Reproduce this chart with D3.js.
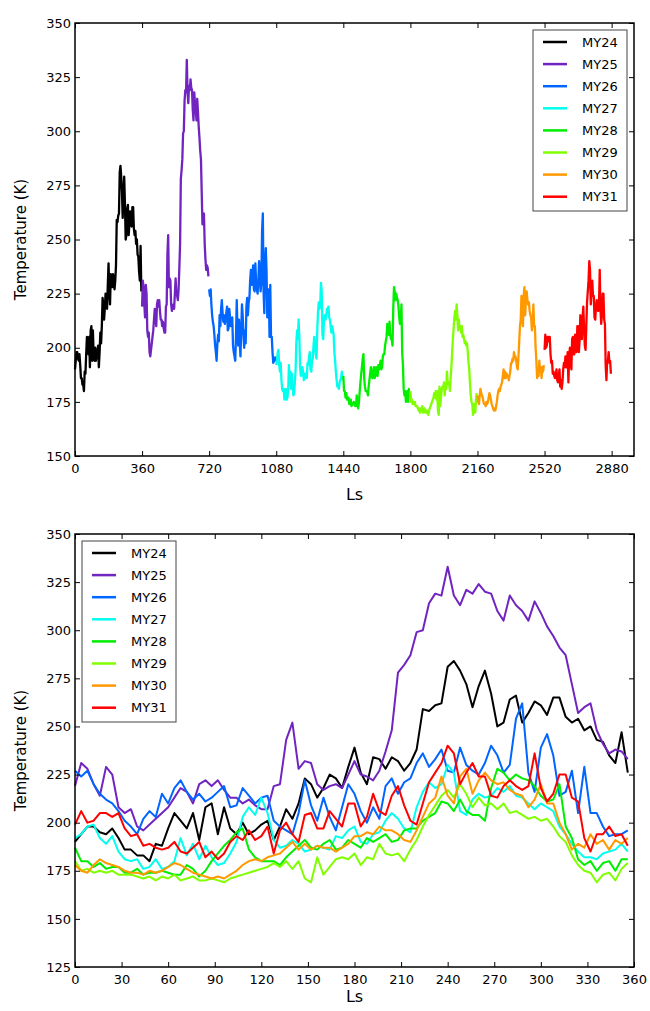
<!DOCTYPE html>
<html>

<head>
  <title>Mars temperature by year</title>
</head>

<body>

  <svg id="svg" width="650" height="1011"></svg>

  <script src="https://d3js.org/d3.v7.min.js"></script>
  <script>
    // solar longitude grid shared by every Mars year
    const ls = d3.range(0, 360, 4)

    const years = ['MY24', 'MY25', 'MY26', 'MY27', 'MY28', 'MY29', 'MY30', 'MY31']
    const colors = ['#000000', '#7125c0', '#0066ff', '#00ffee', '#00ee00', '#7fff00', '#ff9900', '#ff0000']

    const my24 = [190, 194, 198, 198, 195, 194, 197, 192, 186, 186, 183, 183, 180, 189, 188, 197, 205, 201, 197, 205,
      191, 208, 210, 194, 208, 197, 194, 200, 194, 196, 199, 201, 191, 198, 207, 202, 210, 223, 220, 213,
      218, 225, 223, 218, 229, 239, 226, 220, 234, 233, 228, 234, 232, 227, 231, 238, 259, 258, 261, 262,
      281, 284, 279, 272, 260, 271, 279, 267, 250, 252, 264, 266, 252, 257, 263, 261, 256, 265, 265, 255,
      252, 254, 248, 250, 243, 242, 235, 231, 247, 226]
    const my25 = [219, 231, 228, 220, 214, 229, 225, 208, 205, 207, 198, 196, 199, 202, 205, 208, 213, 218, 216, 210,
      220, 222, 219, 222, 217, 213, 213, 210, 212, 209, 207, 207, 219, 220, 243, 252, 228, 232, 231, 220,
      217, 219, 220, 218, 225, 232, 225, 224, 222, 227, 237, 248, 278, 282, 287, 299, 300, 314, 319, 318,
      333, 318, 313, 321, 319, 324, 320, 319, 310, 305, 318, 313, 310, 305, 315, 309, 302, 297, 291, 287,
      272, 257, 260, 262, 248, 241, 236, 238, 237, 233]
    const my26 = [227, 224, 227, 220, 215, 212, 210, 206, 201, 198, 194, 202, 206, 203, 215, 210, 218, 222, 216, 212,
      215, 211, 213, 216, 219, 208, 209, 218, 214, 210, 213, 214, 201, 198, 196, 194, 205, 222, 209, 201,
      213, 203, 196, 208, 220, 215, 206, 200, 208, 202, 219, 223, 215, 221, 223, 231, 236, 229, 233, 238,
      227, 226, 239, 230, 227, 225, 231, 240, 235, 226, 230, 254, 262, 226, 216, 239, 246, 235, 214, 216,
      227, 205, 229, 205, 205, 198, 193, 194, 194, 196]
    const my27 = [192, 194, 198, 199, 192, 189, 193, 185, 181, 180, 181, 176, 177, 181, 176, 177, 180, 192, 183, 189,
      181, 188, 182, 178, 179, 184, 190, 203, 208, 204, 213, 205, 191, 187, 188, 191, 189, 185, 186, 188,
      187, 186, 193, 192, 196, 198, 190, 189, 194, 195, 201, 205, 202, 197, 195, 208, 216, 221, 218, 220,
      230, 226, 206, 204, 212, 215, 213, 214, 218, 216, 219, 214, 213, 210, 207, 210, 208, 206, 198, 194,
      189, 185, 182, 182, 181, 184, 185, 186, 189, 185]
    const my28 = [187, 180, 180, 177, 179, 176, 177, 177, 174, 174, 176, 173, 174, 174, 175, 174, 173, 173, 178, 176,
      172, 175, 180, 184, 188, 191, 195, 197, 186, 182, 180, 180, 180, 178, 182, 185, 188, 191, 187, 186,
      189, 191, 186, 187, 191, 189, 187, 192, 190, 192, 194, 190, 191, 196, 197, 197, 201, 203, 205, 211,
      210, 206, 212, 206, 204, 204, 201, 218, 228, 226, 222, 225, 223, 222, 219, 214, 211, 212, 220, 198,
      192, 181, 178, 180, 175, 179, 180, 175, 181, 181]
    const my29 = [180, 175, 176, 174, 175, 174, 175, 173, 173, 173, 172, 171, 172, 170, 172, 171, 173, 170, 171, 172,
      170, 170, 171, 170, 169, 171, 172, 173, 174, 175, 176, 177, 179, 177, 180, 176, 180, 171, 169, 182,
      173, 177, 181, 182, 181, 184, 178, 182, 181, 189, 184, 183, 184, 180, 186, 191, 198, 204, 209, 214,
      217, 213, 220, 215, 208, 213, 209, 210, 207, 210, 205, 206, 204, 202, 203, 201, 202, 198, 193, 190,
      183, 178, 175, 174, 169, 173, 174, 170, 176, 179]
    const my30 = [178, 175, 174, 178, 181, 179, 178, 177, 175, 174, 174, 173, 175, 174, 175, 177, 179, 178, 176, 174,
      173, 172, 171, 172, 171, 173, 175, 178, 180, 181, 180, 182, 183, 184, 187, 190, 186, 189, 186, 188,
      187, 187, 185, 187, 189, 193, 193, 195, 194, 198, 196, 196, 194, 191, 190, 196, 203, 210, 213, 224,
      214, 210, 224, 228, 215, 222, 226, 222, 220, 221, 217, 215, 214, 208, 212, 220, 210, 210, 200, 194,
      186, 189, 187, 194, 189, 191, 186, 191, 189, 192]
    const my31 = [199, 206, 200, 201, 205, 205, 203, 205, 197, 193, 194, 188, 189, 187, 186, 187, 190, 185, 184, 187,
      190, 182, 185, 181, 184, 190, 193, 191, 196, 191, 193, 198, 184, 196, 200, 194, 190, 204, 205, 197,
      197, 206, 202, 198, 210, 210, 198, 203, 215, 206, 204, 214, 219, 209, 201, 199, 210, 221, 226, 231,
      240, 236, 220, 226, 231, 224, 224, 214, 213, 219, 222, 219, 217, 219, 236, 218, 211, 215, 225, 225,
      213, 211, 192, 185, 194, 194, 198, 193, 194, 188]

    const series = [my24, my25, my26, my27, my28, my29, my30, my31]

    const svg = d3.select('#svg')
    const left = 75
    const right = 634

    // top panel: years laid end to end
    drawPanel({
      top: 23, bottom: 456,
      xDomain: [0, 3000], xTicks: d3.range(0, 2881, 360),
      yDomain: [150, 350], yTicks: d3.range(150, 351, 25),
      offset: 360, lineWidth: 2.3, labelGap: 44,
      legendX: 533, legendY: 30
    })

    // bottom panel: years stacked on one Ls axis
    drawPanel({
      top: 534, bottom: 967,
      xDomain: [0, 360], xTicks: d3.range(0, 361, 30),
      yDomain: [125, 350], yTicks: d3.range(125, 351, 25),
      offset: 0, lineWidth: 2, labelGap: 35,
      legendX: 82, legendY: 541
    })

    function drawPanel(p) {
      const xscale = d3.scaleLinear().domain(p.xDomain).range([left, right])
      const yscale = d3.scaleLinear().domain(p.yDomain).range([p.bottom, p.top])
      const g = svg.append('g')

      const linegen = d3.line()
        .x(d => xscale(d[0]))
        .y(d => yscale(d[1]))

      series.forEach((vals, i) => {
        const pts = vals.map((v, j) => [ls[j] + p.offset * i, v])
        g.append('path')
          .attr('d', linegen(pts))
          .attr('stroke', colors[i])
          .attr('stroke-width', p.lineWidth)
          .attr('stroke-linejoin', 'round')
          .attr('fill', 'none')
      })

      // axes with inward ticks on all four sides
      g.append('g')
        .attr('class', 'axis')
        .attr('transform', `translate(0,${p.bottom})`)
        .call(d3.axisBottom(xscale).tickValues(p.xTicks).tickSize(-5).tickPadding(8).tickFormat(d3.format('d')))
      g.append('g')
        .attr('class', 'axis')
        .attr('transform', `translate(0,${p.top})`)
        .call(d3.axisTop(xscale).tickValues(p.xTicks).tickSize(-5).tickFormat(''))
      g.append('g')
        .attr('class', 'axis')
        .attr('transform', `translate(${left},0)`)
        .call(d3.axisLeft(yscale).tickValues(p.yTicks).tickSize(-5).tickPadding(4).tickFormat(d3.format('d')))
      g.append('g')
        .attr('class', 'axis')
        .attr('transform', `translate(${right},0)`)
        .call(d3.axisRight(yscale).tickValues(p.yTicks).tickSize(-5).tickFormat(''))

      g.selectAll('.axis .domain').remove()
      g.append('rect')
        .attr('x', left)
        .attr('y', p.top)
        .attr('width', right - left)
        .attr('height', p.bottom - p.top)
        .attr('fill', 'none')
        .attr('stroke', 'black')
        .attr('stroke-width', 1.5)

      g.append('text')
        .attr('class', 'label')
        .attr('x', (left + right) / 2)
        .attr('y', p.bottom + p.labelGap)
        .attr('text-anchor', 'middle')
        .text('Ls')
      g.append('text')
        .attr('class', 'label')
        .attr('transform', `translate(26,${(p.top + p.bottom) / 2}) rotate(-90)`)
        .attr('text-anchor', 'middle')
        .style('font-size', '15px')
        .text('Temperature (K)')

      // legend
      const lg = g.append('g').attr('transform', `translate(${p.legendX},${p.legendY})`)
      lg.append('rect')
        .attr('width', 94)
        .attr('height', 181)
        .attr('fill', 'white')
        .attr('stroke', '#444')
        .attr('stroke-width', 1)
      years.forEach((name, i) => {
        const y = 12 + i * 22.1
        lg.append('line')
          .attr('x1', 10).attr('x2', 34)
          .attr('y1', y).attr('y2', y)
          .attr('stroke', colors[i])
          .attr('stroke-width', 2.5)
        lg.append('text')
          .attr('class', 'legend')
          .attr('x', 49)
          .attr('y', y)
          .attr('dy', '0.36em')
          .text(name)
      })
    }
  </script>
</body>

<style>
  body,
  html {
    margin: 0;
    padding: 0;
    background: white;
  }

  svg text,
  .axis text {
    font-family: 'DejaVu Sans', sans-serif;
    fill: black;
  }

  .axis text {
    font-size: 13px;
  }

  .axis line {
    stroke: black;
    stroke-width: 1;
  }

  .label {
    font-size: 16px;
  }

  .legend {
    font-size: 13px;
  }
</style>

</html>
